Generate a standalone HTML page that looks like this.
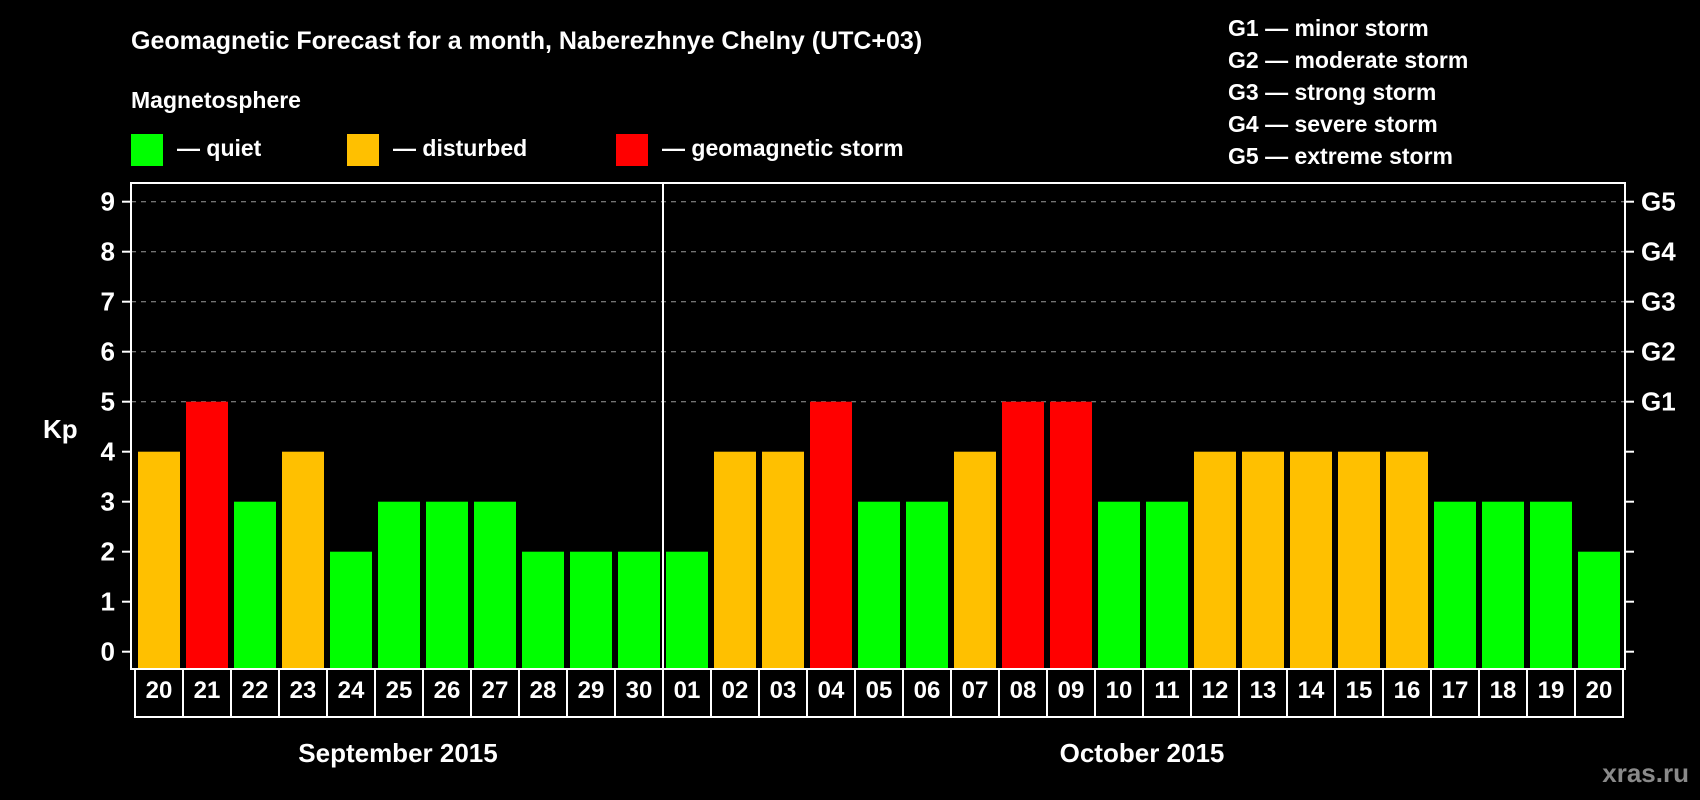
<!DOCTYPE html>
<html><head><meta charset="utf-8"><style>
html,body{margin:0;padding:0;background:#000;}
svg{display:block;font-family:"Liberation Sans",Arial,sans-serif;font-weight:bold;}
</style></head><body>
<svg id="chart" width="1700" height="800" viewBox="0 0 1700 800" xmlns="http://www.w3.org/2000/svg">
<rect width="1700" height="800" fill="#000"/>
<text x="131" y="49" fill="#fff" font-size="25">Geomagnetic Forecast for a month, Naberezhnye Chelny (UTC+03)</text>
<text x="131" y="108" fill="#fff" font-size="23">Magnetosphere</text>
<g><rect x="131" y="134" width="32" height="32" fill="#00ff00"/><text x="177" y="156" fill="#fff" font-size="23">— quiet</text></g>
<g><rect x="347" y="134" width="32" height="32" fill="#ffc000"/><text x="393" y="156" fill="#fff" font-size="23">— disturbed</text></g>
<g><rect x="616" y="134" width="32" height="32" fill="#ff0000"/><text x="662" y="156" fill="#fff" font-size="23">— geomagnetic storm</text></g>
<g fill="#fff" font-size="23">
<text x="1228" y="36">G1 — minor storm</text>
<text x="1228" y="68">G2 — moderate storm</text>
<text x="1228" y="100">G3 — strong storm</text>
<text x="1228" y="132">G4 — severe storm</text>
<text x="1228" y="164">G5 — extreme storm</text>
</g>
<text x="43" y="438" fill="#fff" font-size="26">Kp</text>
<g id="grid"></g><g id="bars"></g><g id="axes"></g>
<text x="398" y="762" fill="#fff" font-size="26" text-anchor="middle">September 2015</text>
<text x="1142" y="762" fill="#fff" font-size="26" text-anchor="middle">October 2015</text>
<text x="1689" y="782" fill="#8a8a8a" font-size="26" text-anchor="end">xras.ru</text>
</svg>
<script>
const days = ["20","21","22","23","24","25","26","27","28","29","30","01","02","03","04","05","06","07","08","09","10","11","12","13","14","15","16","17","18","19","20"];
const kpValues = [4,5,3,4,2,3,3,3,2,2,2,2,4,4,5,3,3,4,5,5,3,3,4,4,4,4,4,3,3,3,2];
const yTicks = [0,1,2,3,4,5,6,7,8,9];
const gLabels = ["","","","","","G1","G2","G3","G4","G5"];
const monthSplit = 11;

const NS="http://www.w3.org/2000/svg";
const plotL=131, plotR=1625, plotT=183, plotB=669, cellL=135, cellW=48, cellB=717;
function y(v){return 651.7 - v*50;}
function x(i){return cellL + i*cellW;}
function mk(tag, attrs, parent){const e=document.createElementNS(NS,tag);for(const k in attrs)e.setAttribute(k,attrs[k]);parent.appendChild(e);return e;}
const grid=document.getElementById('grid'), bars=document.getElementById('bars'), axes=document.getElementById('axes');

yTicks.forEach(v=>{
  if(v>=5){
    const g=mk('line',{x1:plotL,x2:plotR,y1:y(v),y2:y(v),stroke:'#9a9a9a','stroke-width':1,'stroke-dasharray':'5,5'},grid);
    
    
  }
  const t1=mk('line',{x1:122,x2:plotL,y1:y(v),y2:y(v),stroke:'#fff','stroke-width':2},axes);
  
  
  const t2=mk('line',{x1:plotR,x2:plotR+9,y1:y(v),y2:y(v),stroke:'#fff','stroke-width':2},axes);
  
  
  const lb=mk('text',{x:115,y:y(v)+9,fill:'#fff','font-size':26,'text-anchor':'end'},axes);
  lb.textContent=String(v);
  
  
  if(gLabels[v]){
    const gl=mk('text',{x:1641,y:y(v)+9,fill:'#fff','font-size':26},axes);
    gl.textContent=gLabels[v];
    
    
  }
});

kpValues.forEach((v,i)=>{
  const col = v>=5?'#ff0000':(v>=4?'#ffc000':'#00ff00');
  const b=mk('rect',{x:x(i)+3,y:y(v),width:42,height:plotB-y(v),fill:col},bars);
  
  
  const c=mk('rect',{x:x(i),y:plotB,width:cellW,height:cellB-plotB,fill:'none',stroke:'#fff','stroke-width':2},axes);
  
  
  const t=mk('text',{x:x(i)+cellW/2,y:698,fill:'#fff','font-size':24,'text-anchor':'middle'},axes);
  t.textContent=days[i];
  
  
});

const frame=mk('rect',{x:plotL,y:plotT,width:plotR-plotL,height:plotB-plotT,fill:'none',stroke:'#fff','stroke-width':2},axes);


const sep=mk('line',{x1:x(monthSplit),x2:x(monthSplit),y1:plotT,y2:plotB,stroke:'#fff','stroke-width':2},axes);


</script>
</body></html>
